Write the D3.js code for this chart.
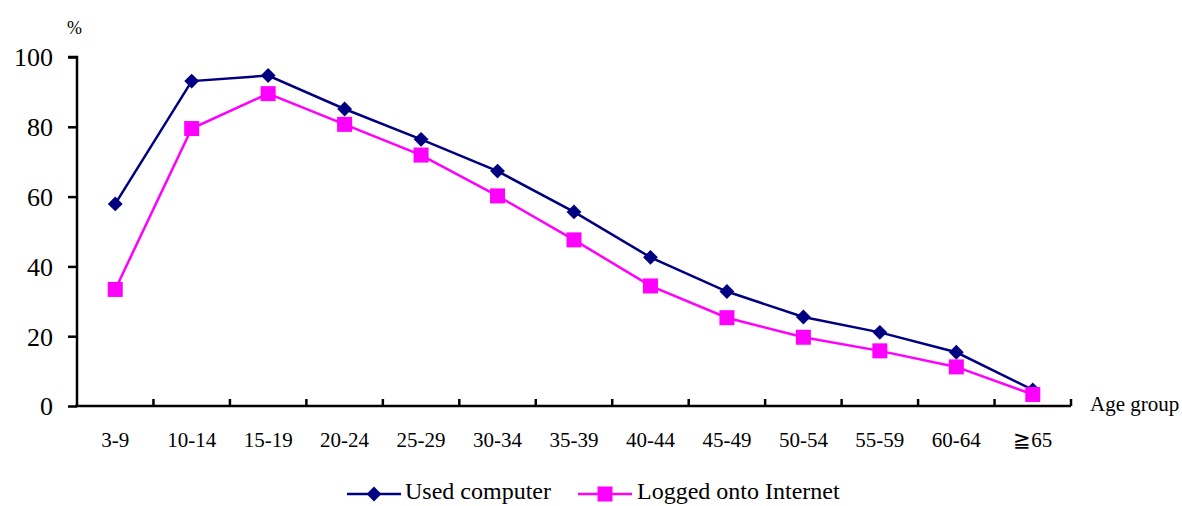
<!DOCTYPE html>
<html><head><meta charset="utf-8">
<script src="https://cdn.jsdelivr.net/npm/d3@7"></script>
<style>body{margin:0;background:#fff}</style>
</head><body><svg id="c" width="1182" height="506"></svg>
<script>
const categories = ["3-9","10-14","15-19","20-24","25-29","30-34","35-39","40-44","45-49","50-54","55-59","60-64","\u226765"];
const usedComputer = [57.9,93.1,94.7,85.1,76.4,67.3,55.6,42.6,32.8,25.5,21.1,15.4,4.6];
const loggedInternet = [33.4,79.5,89.5,80.7,71.9,60.2,47.6,34.4,25.3,19.7,15.8,11.2,3.3];
const yTicks = [0,20,40,60,80,100];
const seriesNames = ["Used computer","Logged onto Internet"];

const FONT = "'Liberation Serif', 'Times New Roman', Times, serif";
const svg = d3.select("#c");
const x0 = 77, x1 = 1071, yTop = 57, yBot = 406;
const x = d3.scaleBand().domain(categories).range([x0, x1]);
const y = d3.scaleLinear().domain([0,100]).range([yBot, yTop]);

// Y axis
const ya = svg.append("g").attr("transform",`translate(${x0},0)`)
  .call(d3.axisLeft(y).tickValues(yTicks).tickSize(9).tickPadding(15));
ya.attr("font-family",null).attr("font-size",null);
ya.select(".domain").attr("stroke","#000").attr("stroke-width",2.5).attr("d",`M-9,${yTop}H0V${yBot}`);
ya.selectAll(".tick line").attr("stroke","#000").attr("stroke-width",2.5);
ya.selectAll(".tick text").style("font-family",FONT).style("font-size","26px").attr("fill","#000").attr("dy","0.34em");

// X axis
const xa = svg.append("g").attr("transform",`translate(0,${yBot})`)
  .call(d3.axisBottom(x).tickSize(0).tickPadding(26));
xa.attr("font-family",null).attr("font-size",null);
xa.select(".domain").attr("stroke","#000").attr("stroke-width",2.5).attr("d",`M${x0-2},0H${x1}`);
xa.selectAll(".tick text").style("font-family",FONT).style("font-size","21px").attr("fill","#000");
const bounds = categories.map(c => x(c)).concat([x1]).slice(1);
xa.selectAll(".xt").data(bounds).enter().append("line")
  .attr("x1",d=>d).attr("x2",d=>d).attr("y1",0).attr("y2",-7)
  .attr("stroke","#000").attr("stroke-width",2.5);

svg.append("text").attr("x",67).attr("y",34).style("font-family",FONT).style("font-size","18px").text("%");
svg.append("text").attr("x",1090).attr("y",411).style("font-family",FONT).style("font-size","21px").text("Age group");

const cx = c => x(c) + x.bandwidth()/2;
const line = d3.line().x((d,i)=>cx(categories[i])).y(d=>y(d));

const colors = ["#000080","#FF00FF"];
const datas = [usedComputer, loggedInternet];

function drawMarker(g, k, px, py) {
  if (k === 0) {
    g.append("path").attr("d",d3.symbol().type(d3.symbolSquare).size(110)())
      .attr("transform",`translate(${px},${py}) rotate(45)`).attr("fill",colors[0]);
  } else {
    g.append("rect").attr("x",px-7.5).attr("y",py-7.5).attr("width",15).attr("height",15).attr("fill",colors[1]);
  }
}

datas.forEach((data,k) => {
  svg.append("path").datum(data).attr("d",line).attr("fill","none")
    .attr("stroke",colors[k]).attr("stroke-width",2.5);
});
datas.forEach((data,k) => {
  const g = svg.append("g");
  data.forEach((v,i) => drawMarker(g, k, cx(categories[i]), y(v)));
});

// Legend
const legendItems = [{lx:347, tx:405}, {lx:578, tx:637}];
seriesNames.forEach((name,k) => {
  const L = legendItems[k];
  const ly = 494;
  svg.append("line").attr("x1",L.lx).attr("x2",L.lx+54).attr("y1",ly).attr("y2",ly)
    .attr("stroke",colors[k]).attr("stroke-width",2.5);
  drawMarker(svg, k, L.lx+27, ly);
  svg.append("text").attr("x",L.tx).attr("y",499).style("font-family",FONT).style("font-size","24px").text(name);
});
</script></body></html>
